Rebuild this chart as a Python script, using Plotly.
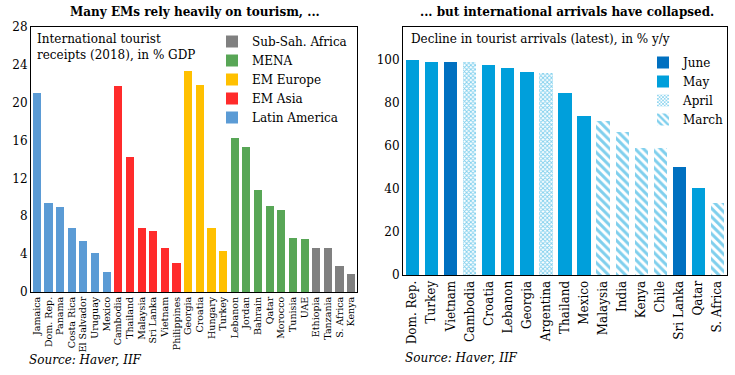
import plotly.graph_objects as go

# ---------------- Data: left panel ----------------
left_countries = ["Jamaica", "Dom. Rep.", "Panama", "Costa Rica", "El Salvador", "Uruguay", "Mexico",
                  "Cambodia", "Thailand", "Malaysia", "Sri Lanka", "Vietnam", "Philippines",
                  "Georgia", "Croatia", "Hungary", "Turkey",
                  "Lebanon", "Jordan", "Bahrain", "Qatar", "Morocco", "Tunisia", "UAE",
                  "Ethiopia", "Tanzania", "S. Africa", "Kenya"]
left_values = [21.0, 9.4, 9.0, 6.8, 5.4, 4.1, 2.1,
               21.8, 14.3, 6.8, 6.4, 4.6, 3.1,
               23.4, 21.9, 6.8, 4.3,
               16.3, 15.3, 10.8, 9.1, 8.7, 5.7, 5.6,
               4.7, 4.6, 2.8, 1.9]
left_regions = ["Latin America"] * 7 + ["EM Asia"] * 6 + ["EM Europe"] * 4 + ["MENA"] * 7 + ["Sub-Sah. Africa"] * 4
region_order = ["Latin America", "EM Asia", "EM Europe", "MENA", "Sub-Sah. Africa"]
region_colors = {"Latin America": "#5B9BD5", "EM Asia": "#FF2B2B", "EM Europe": "#FFC000",
                 "MENA": "#58A656", "Sub-Sah. Africa": "#808080"}
left_yticks = [0, 4, 8, 12, 16, 20, 24, 28]

# ---------------- Data: right panel ----------------
right_countries = ["Dom. Rep.", "Turkey", "Vietnam", "Cambodia", "Croatia", "Lebanon", "Georgia",
                   "Argentina", "Thailand", "Mexico", "Malaysia", "India", "Kenya", "Chile",
                   "Sri Lanka", "Qatar", "S. Africa"]
right_values = [100.0, 99.3, 99.3, 99.3, 97.9, 96.5, 94.3,
                93.9, 84.5, 74.2, 71.5, 66.4, 58.9, 58.9,
                50.1, 40.4, 33.4]
right_months = ["May", "May", "June", "April", "May", "May", "May",
                "April", "May", "May", "March", "March", "March", "March",
                "June", "May", "March"]
month_order = ["June", "May", "April", "March"]
right_yticks = [0, 20, 40, 60, 80, 100]

FONT = "DejaVu Serif"
BLUE_JUNE = "#0070C0"
BLUE_MAY = "#009FDB"

fig = go.Figure()

for reg in region_order:
    xs = [c for c, r in zip(left_countries, left_regions) if r == reg]
    ys = [v for v, r in zip(left_values, left_regions) if r == reg]
    fig.add_trace(go.Bar(x=xs, y=ys, name=reg, marker=dict(color=region_colors[reg], line=dict(width=0)),
                         xaxis="x", yaxis="y", legend="legend"))

month_style = {
    "June": dict(color=BLUE_JUNE, line=dict(width=0)),
    "May": dict(color=BLUE_MAY, line=dict(width=0)),
    "April": dict(color="white", line=dict(width=0),
                  pattern=dict(shape="x", fgcolor=BLUE_MAY, bgcolor="white", size=3, solidity=0.5)),
    "March": dict(color="white", line=dict(width=0),
                  pattern=dict(shape="\\", fgcolor=BLUE_MAY, bgcolor="white", size=6, solidity=0.5)),
}
for m in month_order:
    xs = [c for c, mm in zip(right_countries, right_months) if mm == m]
    ys = [v for v, mm in zip(right_values, right_months) if mm == m]
    fig.add_trace(go.Bar(x=xs, y=ys, name=m, marker=month_style[m],
                         xaxis="x2", yaxis="y2", legend="legend2"))

W, H = 735, 375
def px(x):
    return x / W
def py(y):
    return 1 - y / H

axis_common = dict(showline=True, mirror=True, linecolor="black", linewidth=1, showgrid=False,
                   zeroline=False, ticks="", automargin=False)

fig.update_layout(
    width=W, height=H,
    margin=dict(l=0, r=0, t=0, b=0, autoexpand=False),
    paper_bgcolor="white", plot_bgcolor="white",
    font=dict(family=FONT, color="black", size=11),
    barmode="stack", bargap=0.3,
    xaxis=dict(domain=[px(31), px(357)], anchor="y", categoryorder="array", categoryarray=left_countries,
               tickmode="array", tickvals=left_countries, ticktext=left_countries,
               tickangle=-90, tickfont=dict(size=9.5), **axis_common),
    yaxis=dict(domain=[py(292), py(27)], anchor="x", range=[0, 28], tickvals=left_yticks,
               tickfont=dict(size=12), **axis_common),
    xaxis2=dict(domain=[px(403), px(727)], anchor="y2", categoryorder="array", categoryarray=right_countries,
                tickmode="array", tickvals=right_countries, ticktext=right_countries,
                tickangle=-90, tickfont=dict(size=12), **axis_common),
    yaxis2=dict(domain=[py(275), py(27)], anchor="x2", range=[0, 115.4], tickvals=right_yticks,
                tickfont=dict(size=12), **axis_common),
    legend=dict(x=px(212), y=py(27), xanchor="left", yanchor="top", traceorder="reversed",
                bgcolor="rgba(0,0,0,0)", font=dict(size=12), itemwidth=30, tracegroupgap=0),
    legend2=dict(x=px(643), y=py(48), xanchor="left", yanchor="top", traceorder="normal",
                 bgcolor="rgba(0,0,0,0)", font=dict(size=12), itemwidth=30, tracegroupgap=0),
    showlegend=True,
)

annotations = [
    dict(text="<b>Many EMs rely heavily on tourism, ...</b>", x=px(195), y=py(12), xanchor="center",
         yanchor="middle", font=dict(size=12)),
    dict(text="<b>... but international arrivals have collapsed.</b>", x=px(567), y=py(12), xanchor="center",
         yanchor="middle", font=dict(size=12)),
    dict(text="International tourist<br>receipts (2018), in % GDP", x=px(35), y=py(30), xanchor="left",
         yanchor="top", align="left", font=dict(size=12)),
    dict(text="Decline in tourist arrivals (latest), in % y/y", x=px(409), y=py(30), xanchor="left",
         yanchor="top", align="left", font=dict(size=12)),
    dict(text="<i>Source: Haver, IIF</i>", x=px(27), y=py(360), xanchor="left", yanchor="middle",
         font=dict(size=12)),
    dict(text="<i>Source: Haver, IIF</i>", x=px(403), y=py(358), xanchor="left", yanchor="middle",
         font=dict(size=12)),
]
for a in annotations:
    a.update(xref="paper", yref="paper", showarrow=False)
fig.update_layout(annotations=annotations)

fig.write_html("out.html", config={"displayModeBar": False},
               post_script="document.body.style.margin='0';document.body.style.padding='0';")
